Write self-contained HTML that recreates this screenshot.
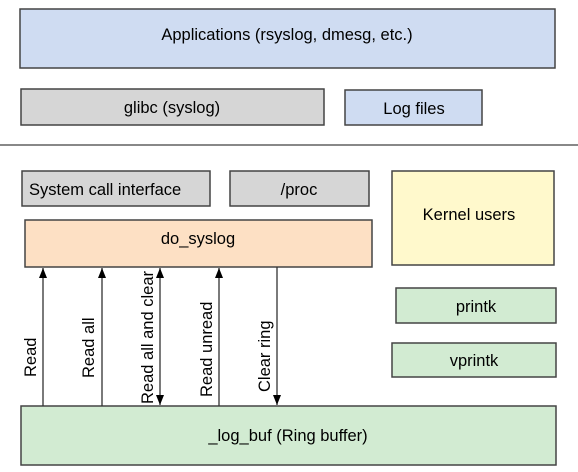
<!DOCTYPE html>
<html><head><style>body{margin:0;background:#fff}svg{display:block}</style></head><body>
<svg width="578" height="472" viewBox="0 0 578 472" xmlns="http://www.w3.org/2000/svg" font-family="Liberation Sans, Arial, sans-serif" font-size="16.5" fill="#000">
<defs><marker id="a" markerWidth="10" markerHeight="8" refX="10" refY="4" orient="auto-start-reverse" markerUnits="userSpaceOnUse"><path d="M0,0 L10,4 L0,8 Z" fill="#000"/></marker></defs>
<g stroke="#444" stroke-width="1.5">
<rect x="20" y="9" width="535" height="59" fill="#cfdcf2"/>
<rect x="21" y="89" width="303" height="36" fill="#d6d6d6"/>
<rect x="345" y="90" width="137" height="35" fill="#cfdcf2"/>
<rect x="22" y="171" width="188" height="35" fill="#d6d6d6"/>
<rect x="230" y="171" width="139" height="35" fill="#d6d6d6"/>
<rect x="392" y="171" width="162" height="94" fill="#fff9cc"/>
<rect x="25" y="220" width="347" height="47" fill="#fde0c4"/>
<rect x="396" y="288" width="160" height="35" fill="#d2ebd2"/>
<rect x="392" y="343" width="164" height="34" fill="#d2ebd2"/>
<rect x="21" y="406" width="535" height="59" fill="#d2ebd2"/>
</g>
<line x1="0" y1="145" x2="578" y2="145" stroke="#888" stroke-width="2"/>
<g stroke="#333" stroke-width="1.3">
<line x1="43" y1="406" x2="43" y2="268" marker-end="url(#a)"/>
<line x1="102" y1="406" x2="102" y2="268" marker-end="url(#a)"/>
<line x1="160" y1="405" x2="160" y2="268" marker-start="url(#a)" marker-end="url(#a)"/>
<line x1="219" y1="406" x2="219" y2="268" marker-end="url(#a)"/>
<line x1="277" y1="267" x2="277" y2="405" marker-end="url(#a)"/>
</g>
<g text-anchor="middle">
<text x="287" y="40">Applications (rsyslog, dmesg, etc.)</text>
<text x="172" y="113">glibc (syslog)</text>
<text x="414" y="114">Log files</text>
<text x="299" y="195">/proc</text>
<text x="469" y="220">Kernel users</text>
<text x="198" y="244">do_syslog</text>
<text x="476" y="312">printk</text>
<text x="474" y="366">vprintk</text>
<text x="288" y="441">_log_buf (Ring buffer)</text>
</g>
<text x="29" y="195">System call interface</text>
<text transform="translate(36,377) rotate(-90)">Read</text>
<text transform="translate(94,378) rotate(-90)">Read all</text>
<text transform="translate(153,404) rotate(-90)">Read all and clear</text>
<text transform="translate(212,397) rotate(-90)">Read unread</text>
<text transform="translate(270,392) rotate(-90)">Clear ring</text>
</svg>
</body></html>
